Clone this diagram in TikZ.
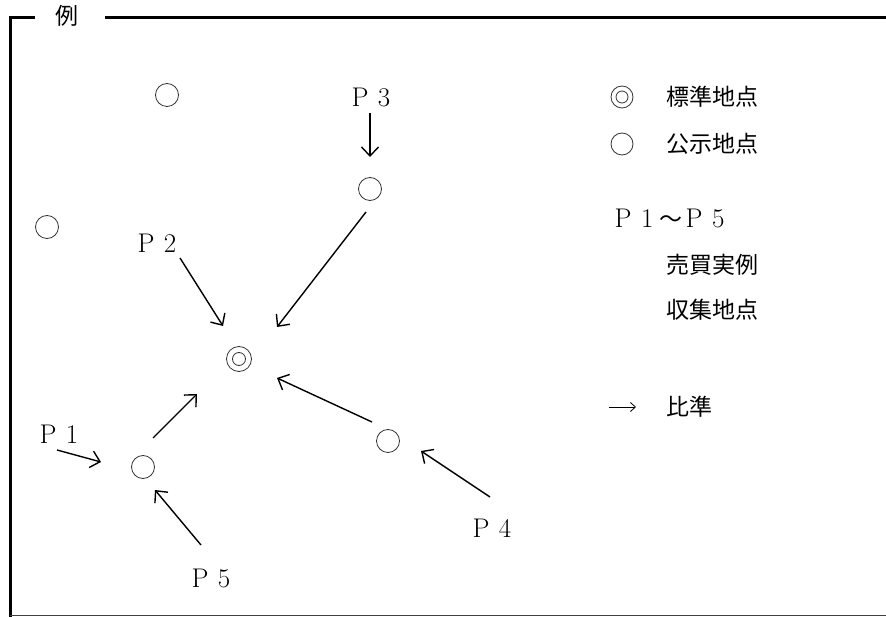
\documentclass[tikz,border=0pt]{standalone}
\usepackage{fontspec}
\newfontfamily\cjk{Noto Sans CJK JP}
\usetikzlibrary{arrows.meta}
\newcommand\fwc[1]{\makebox[24pt]{#1}}
\tikzset{
  site/.style={circle,draw=black!80,line width=0.8pt,minimum size=23pt,inner sep=0pt},
  inner/.style={circle,draw=black!80,line width=0.8pt,minimum size=13pt,inner sep=0pt},
  lab/.style={font=\fontsize{27}{27}\selectfont,inner sep=0pt},
  jp/.style={font=\cjk\fontsize{23}{23}\selectfont,inner sep=0pt,anchor=west},
  arr/.style={line width=1.4pt,-{Straight Barb[length=9pt,width=17pt,line width=1.4pt]}},
  frame/.style={line width=3pt,black}
}
\begin{document}
\begin{tikzpicture}[x=1pt,y=-1pt]
\useasboundingbox (0,0) rectangle (886,617);
% frame
\coordinate (tl) at (10,17.5);
\coordinate (bl) at (10,617);
\coordinate (t1) at (35,17.5);
\coordinate (t2) at (105,17.5);
\coordinate (tr) at (886,17.5);
\coordinate (br) at (886,615.5);
\coordinate (bl2) at (10,615.5);
\draw[frame] (bl) -- (tl) -- (t1);
\draw[frame] (t2) -- (tr);
\draw[line width=1.5pt,black!75] (bl2) -- (br);
\node[font=\cjk\fontsize{23}{23}\selectfont,inner sep=0pt] (rei) at (67,16) {例};
% sites
\node[site] (ca) at (167,95) {};
\node[site] (cb) at (47,227) {};
\node[site] (c3) at (370,189) {};
\node[site] (c1) at (143,467) {};
\node[site] (c4) at (388,441) {};
\node[site,minimum size=25pt] (std) at (239,359) {};
\node[inner] (stdin) at (std) {};
% labels
\node[lab] (p3) at (372,97) {\fwc{P}\fwc{3}};
\node[lab] (p2) at (158,243) {\fwc{P}\fwc{2}};
\node[lab] (p1) at (60,434) {\fwc{P}\fwc{1}};
\node[lab] (p5) at (212,578) {\fwc{P}\fwc{5}};
\node[lab] (p4) at (493,528) {\fwc{P}\fwc{4}};
% arrow end points
\coordinate (a3s) at (370,113);
\coordinate (a3e) at (370,157);
\coordinate (a2s) at (180,258);
\coordinate (a2e) at (223,326);
\coordinate (b3s) at (366,212);
\coordinate (b3e) at (277,327);
\coordinate (a1s) at (57,450);
\coordinate (a1e) at (101,462);
\coordinate (b1s) at (153,438);
\coordinate (b1e) at (197,394);
\coordinate (a5s) at (201,545);
\coordinate (a5e) at (155,490);
\coordinate (b4s) at (372,422);
\coordinate (b4e) at (277,378);
\coordinate (a4s) at (490,497);
\coordinate (a4e) at (421,451);
\draw[arr] (a3s) -- (a3e);
\draw[arr] (a2s) -- (a2e);
\draw[arr] (b3s) -- (b3e);
\draw[arr] (a1s) -- (a1e);
\draw[arr] (b1s) -- (b1e);
\draw[arr] (a5s) -- (a5e);
\draw[arr] (b4s) -- (b4e);
\draw[arr] (a4s) -- (a4e);
% legend
\node[site,minimum size=22pt] (lstd) at (622,97) {};
\node[inner,minimum size=12pt] (lstdin) at (lstd) {};
\node[jp] (t1l) at (666,97) {標準地点};
\node[site,minimum size=22pt] (lsite) at (622,144) {};
\node[jp] (t2l) at (666,144) {公示地点};
\node[lab,anchor=west] (prange) at (611,218) {\fwc{P}\fwc{1}{\cjk\fontsize{23}{23}\selectfont ～}\fwc{P}\fwc{5}};
\node[jp] (t3l) at (666,265) {売買実例};
\node[jp] (t4l) at (666,310) {収集地点};
\coordinate (las) at (609,407);
\coordinate (lae) at (636,407);
\draw[line width=0.8pt,-{Straight Barb[length=5pt,width=9pt,line width=0.8pt]}] (las) -- (lae);
\node[jp] (t5l) at (666,407) {比準};
\end{tikzpicture}
\end{document}
